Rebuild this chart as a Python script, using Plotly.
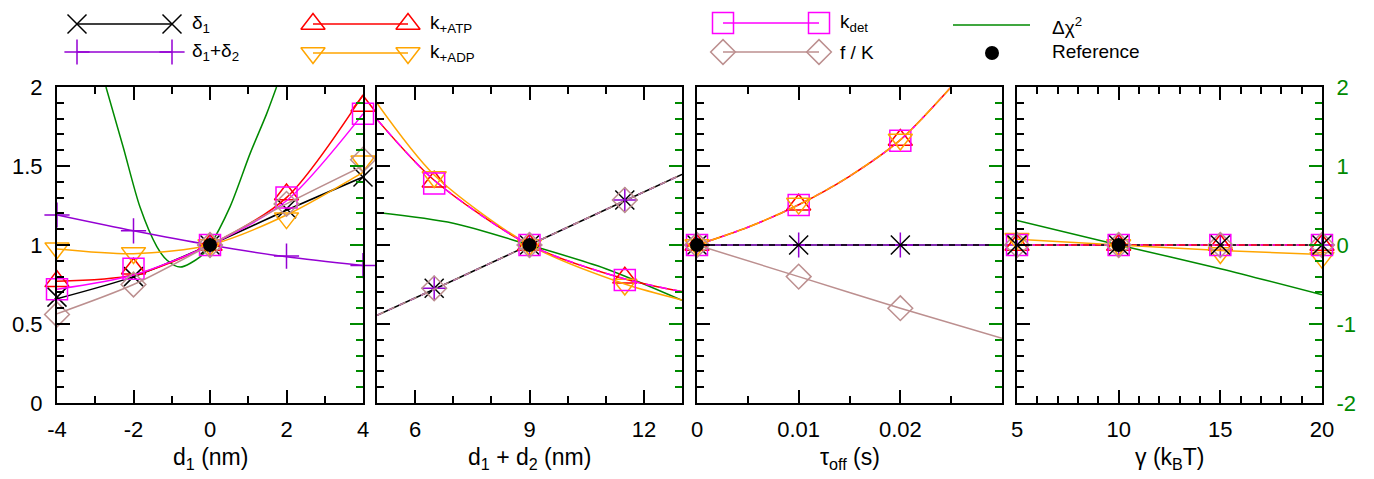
import plotly.graph_objects as go

W, H = 1374, 479
FONT = "Liberation Sans"

# ---------------- data ----------------
# Panel 1 : d1 (nm)
P1_X = [-4, -2, 0, 2, 4]
P1_D1 = [0.67, 0.80, 1.00, 1.23, 1.43]
P1_D12 = [1.19, 1.09, 1.00, 0.93, 0.87]
P1_KATP = [0.77, 0.85, 1.00, 1.32, 1.88]
P1_KADP = [0.98, 0.95, 1.00, 1.17, 1.53]
P1_KDET = [0.72, 0.85, 1.00, 1.30, 1.83]
P1_FK = [0.56, 0.75, 1.00, 1.26, 1.54]
P1_D1_FIT = [0.66, 0.80, 1.00, 1.22, 1.43]
P1_D12_FIT = [1.19, 1.09, 1.00, 0.925, 0.87]
P1_KATP_FIT = [0.77, 0.81, 1.00, 1.30, 1.95]
P1_KADP_FIT = [0.975, 0.945, 1.00, 1.19, 1.46]
P1_KDET_FIT = [0.72, 0.81, 1.00, 1.28, 1.83]
P1_FK_FIT = [0.565, 0.75, 1.00, 1.26, 1.50]
P1_CHI_X = [-2.72, -2.27, -1.83, -1.39, -1.13, -0.78, -0.26, 0.0, 0.52, 1.05, 1.48, 1.74]
P1_CHI = [2.0, 1.24, 0.48, -0.02, -0.19, -0.28, -0.15, 0.0, 0.48, 1.16, 1.66, 2.0]
P1_REF_X = [0]

# Panel 2 : d1 + d2 (nm)
P2_X = [6.5, 9, 11.5]
P2_D1 = [0.726, 1.00, 1.285]
P2_D12 = [0.726, 1.00, 1.285]
P2_KATP = [1.40, 1.00, 0.793]
P2_KADP = [1.43, 1.00, 0.75]
P2_KDET = [1.39, 1.00, 0.778]
P2_FK = [0.726, 1.00, 1.285]
P2_FIT_X = [5, 6.5, 9, 11.5, 13]
P2_D1_FIT = [0.555, 0.72, 1.00, 1.28, 1.447]
P2_D12_FIT = [0.555, 0.72, 1.00, 1.28, 1.447]
P2_KATP_FIT = [1.795, 1.41, 1.00, 0.785, 0.705]
P2_KADP_FIT = [1.897, 1.443, 1.00, 0.753, 0.652]
P2_KDET_FIT = [1.795, 1.41, 1.00, 0.785, 0.705]
P2_FK_FIT = [0.555, 0.72, 1.00, 1.28, 1.447]
P2_CHI_X = [5, 7, 9, 11, 13]
P2_CHI = [0.41, 0.275, 0.0, -0.30, -0.70]
P2_REF_X = [9]

# Panel 3 : tau_off (s)
P3_X = [0, 0.01, 0.02]
P3_D1 = [1.0, 1.0, 1.0]
P3_D12 = [1.0, 1.0, 1.0]
P3_KATP = [1.0, 1.255, 1.665]
P3_KADP = [1.0, 1.262, 1.668]
P3_KDET = [1.0, 1.253, 1.66]
P3_FK = [1.0, 0.80, 0.60]
P3_FLAT_X = [0, 0.03]
P3_D1_FIT = [1.0, 1.0]
P3_D12_FIT = [1.0, 1.0]
P3_K_FIT_X = [0, 0.005, 0.01, 0.015, 0.02, 0.025]
P3_KATP_FIT = [1.0, 1.112, 1.255, 1.435, 1.665, 2.0]
P3_KADP_FIT = [1.0, 1.112, 1.255, 1.435, 1.665, 2.0]
P3_KDET_FIT = [1.0, 1.112, 1.255, 1.435, 1.665, 2.0]
P3_FK_FIT_X = [0, 0.01, 0.02, 0.03]
P3_FK_FIT = [1.0, 0.80, 0.60, 0.41]
P3_CHI_X = [0, 0.03]
P3_CHI = [0.0, 0.0]
P3_REF_X = [0]

# Panel 4 : gamma (kBT)
P4_X = [5, 10, 15, 20]
P4_D1 = [1.0, 1.0, 1.0, 1.0]
P4_D12 = [1.0, 1.0, 1.0, 1.0]
P4_KATP = [1.0, 1.0, 1.0, 1.0]
P4_KADP = [1.04, 1.0, 0.95, 0.92]
P4_KDET = [1.0, 1.0, 1.0, 1.0]
P4_FK = [1.0, 1.0, 1.0, 1.0]
P4_KADP_FIT = [1.036, 1.0, 0.965, 0.94]
P4_CHI = [0.31, 0.0, -0.30, -0.63]
P4_REF_X = [10]

REF_Y = [1.0]

# tick labels
P1_TICKS = [-4, -2, 0, 2, 4]
P1_TICKTEXT = ["-4", "-2", "0", "2", "4"]
P2_TICKS = [6, 9, 12]
P2_TICKTEXT = ["6", "9", "12"]
P3_TICKS = [0, 0.01, 0.02]
P3_TICKTEXT = ["0", "0.01", "0.02"]
P4_TICKS = [5, 10, 15, 20]
P4_TICKTEXT = ["5", "10", "15", "20"]
Y1_TICKS = [0, 0.5, 1, 1.5, 2]
Y1_TICKTEXT = ["0", "0.5", "1", "1.5", "2"]
Y2_TICKS = [-2, -1, 0, 1, 2]
Y2_TICKTEXT = ["-2", "-1", "0", "1", "2"]

XTITLES = ["d<sub>1</sub> (nm)", "d<sub>1</sub> + d<sub>2</sub> (nm)",
           "τ<sub>off</sub> (s)", "γ (k<sub>B</sub>T)"]

# ---------------- styles ----------------
BLACK = "#000000"
PURPLE = "#9400d3"
RED = "#ff0000"
ORANGE = "#ffa500"
MAGENTA = "#ff00ff"
ROSY = "#bc8f8f"
GREEN = "#008a00"

STY = {
    "d1": dict(color=BLACK, symbol="x-thin", size=19),
    "d12": dict(color=PURPLE, symbol="cross-thin", size=18),
    "katp": dict(color=RED, symbol="triangle-up-open", size=21),
    "kadp": dict(color=ORANGE, symbol="triangle-down-open", size=21),
    "kdet": dict(color=MAGENTA, symbol="square-open", size=21),
    "fk": dict(color=ROSY, symbol="diamond-open", size=19),
}
# coincident curves are drawn dashed so the ones underneath show through, as in the reference
DASH = {
    (2, "d12"): "5px,7px", (2, "fk"): "7px,5px", (2, "kdet"): "8px,6px",
    (3, "d1"): "6px,6px", (3, "kdet"): "4px,9px", (3, "kadp"): "10px,4px",
    (4, "kdet"): "6px,6px", (4, "fk"): "4px,8px", (4, "d1"): "3px,9px",
}

PANEL_PX = [(57, 363), (377, 682), (697, 1002), (1017, 1322)]
TOP, BOT = 87, 403
XRANGES = [[-4, 4], [5, 13], [0, 0.03], [5, 20]]
XMINOR = [(-4, 1), (5, 1), (0, 0.005), (5, 1)]
XTICKS = [(P1_TICKS, P1_TICKTEXT), (P2_TICKS, P2_TICKTEXT),
          (P3_TICKS, P3_TICKTEXT), (P4_TICKS, P4_TICKTEXT)]

fig = go.Figure()


def ax_name(prefix, i):
    return prefix if i == 1 else f"{prefix}{i}"


def add_line(k, x, y, key):
    s = STY[key]
    fig.add_trace(go.Scatter(x=x, y=y, mode="lines", xaxis=ax_name("x", k),
                             yaxis=ax_name("y", k + 4),
                             line=dict(color=s["color"], width=1.5, shape="spline", smoothing=0.8,
                                       dash=DASH.get((k, key), "solid")),
                             showlegend=False, hoverinfo="skip"))


def add_pts(k, x, y, key):
    s = STY[key]
    fig.add_trace(go.Scatter(x=x, y=y, mode="markers", xaxis=ax_name("x", k),
                             yaxis=ax_name("y", k + 4), cliponaxis=False,
                             marker=dict(symbol=s["symbol"], size=s["size"], color=s["color"],
                                         line=dict(color=s["color"], width=1.5)),
                             showlegend=False, hoverinfo="skip"))


def add_chi(k, x, y):
    fig.add_trace(go.Scatter(x=x, y=y, mode="lines", xaxis=ax_name("x", k),
                             yaxis=ax_name("y", k),
                             line=dict(color=GREEN, width=1.5, shape="spline", smoothing=0.8),
                             showlegend=False, hoverinfo="skip"))


def add_ref(k, x):
    fig.add_trace(go.Scatter(x=x, y=REF_Y, mode="markers", xaxis=ax_name("x", k),
                             yaxis=ax_name("y", k + 4), cliponaxis=False,
                             marker=dict(symbol="circle", size=14, color=BLACK),
                             showlegend=False, hoverinfo="skip"))


# panel 1
add_chi(1, P1_CHI_X, P1_CHI)
for key, fit, pts in [("d1", P1_D1_FIT, P1_D1), ("d12", P1_D12_FIT, P1_D12),
                      ("katp", P1_KATP_FIT, P1_KATP), ("kadp", P1_KADP_FIT, P1_KADP),
                      ("kdet", P1_KDET_FIT, P1_KDET), ("fk", P1_FK_FIT, P1_FK)]:
    add_line(1, P1_X, fit, key)
    add_pts(1, P1_X, pts, key)
add_ref(1, P1_REF_X)

# panel 2
add_chi(2, P2_CHI_X, P2_CHI)
for key, fit, pts in [("d1", P2_D1_FIT, P2_D1), ("d12", P2_D12_FIT, P2_D12),
                      ("katp", P2_KATP_FIT, P2_KATP), ("kadp", P2_KADP_FIT, P2_KADP),
                      ("kdet", P2_KDET_FIT, P2_KDET), ("fk", P2_FK_FIT, P2_FK)]:
    add_line(2, P2_FIT_X, fit, key)
    add_pts(2, P2_X, pts, key)
add_ref(2, P2_REF_X)

# panel 3
add_chi(3, P3_CHI_X, P3_CHI)
for key, fx, fit, pts in [("d12", P3_FLAT_X, P3_D12_FIT, P3_D12), ("d1", P3_FLAT_X, P3_D1_FIT, P3_D1),
                          ("katp", P3_K_FIT_X, P3_KATP_FIT, P3_KATP),
                          ("kdet", P3_K_FIT_X, P3_KDET_FIT, P3_KDET),
                          ("kadp", P3_K_FIT_X, P3_KADP_FIT, P3_KADP),
                          ("fk", P3_FK_FIT_X, P3_FK_FIT, P3_FK)]:
    add_line(3, fx, fit, key)
    add_pts(3, P3_X, pts, key)
add_ref(3, P3_REF_X)

# panel 4
add_chi(4, P4_X, P4_CHI)
for key, fit, pts in [("d12", P4_D12, P4_D12), ("katp", P4_KATP, P4_KATP),
                      ("kadp", P4_KADP_FIT, P4_KADP), ("kdet", P4_KDET, P4_KDET),
                      ("fk", P4_FK, P4_FK), ("d1", P4_D1, P4_D1)]:
    add_line(4, P4_X, fit, key)
    add_pts(4, P4_X, pts, key)
add_ref(4, P4_REF_X)

# ---------------- axes ----------------
ydom = [(H - BOT) / H, (H - TOP) / H]
layout = {}
annotations = []
for k in range(1, 5):
    a, b = PANEL_PX[k - 1]
    tv, tt = XTICKS[k - 1]
    m0, md = XMINOR[k - 1]
    layout[ax_name("xaxis", k)] = dict(
        domain=[a / W, b / W], range=XRANGES[k - 1], anchor=ax_name("y", k),
        showline=True, linecolor=BLACK, linewidth=2, mirror="ticks",
        ticks="inside", ticklen=13, tickwidth=1.5, tickcolor=BLACK,
        tickmode="array", tickvals=tv, ticktext=tt,
        tickfont=dict(family=FONT, size=22, color=BLACK), ticklabelstandoff=6,
        minor=dict(tickmode="linear", tick0=m0, dtick=md, ticks="inside", ticklen=7,
                   tickwidth=1.5, tickcolor=BLACK, showgrid=False),
        showgrid=False, zeroline=False, automargin=False, fixedrange=True)
    # base axis: delta chi^2 on the right (green ticks)
    layout[ax_name("yaxis", k)] = dict(
        domain=ydom, range=[-2, 2], anchor=ax_name("x", k), side="right",
        showline=True, linecolor=BLACK, linewidth=2,
        ticks="inside", ticklen=13, tickwidth=1.5, tickcolor=GREEN,
        tickmode="array", tickvals=Y2_TICKS, ticktext=Y2_TICKTEXT,
        showticklabels=(k == 4), ticklabelstandoff=8,
        tickfont=dict(family=FONT, size=22, color=GREEN),
        minor=dict(tickmode="linear", tick0=-2, dtick=0.2, ticks="inside", ticklen=7,
                   tickwidth=1.5, tickcolor=GREEN, showgrid=False),
        showgrid=False, zeroline=False, automargin=False, fixedrange=True)
    # overlay axis: relative values on the left
    layout[ax_name("yaxis", k + 4)] = dict(
        range=[0, 2], anchor=ax_name("x", k), side="left", overlaying=ax_name("y", k),
        showline=True, linecolor=BLACK, linewidth=2,
        ticks="inside", ticklen=13, tickwidth=1.5, tickcolor=BLACK,
        tickmode="array", tickvals=Y1_TICKS, ticktext=Y1_TICKTEXT,
        showticklabels=(k == 1), ticklabelstandoff=8,
        tickfont=dict(family=FONT, size=22, color=BLACK),
        minor=dict(tickmode="linear", tick0=0, dtick=0.1, ticks="inside", ticklen=7,
                   tickwidth=1.5, tickcolor=BLACK, showgrid=False),
        showgrid=False, zeroline=False, automargin=False, fixedrange=True)
    annotations.append(dict(text=XTITLES[k - 1], xref="paper", yref="paper",
                            x=(a + b) / 2 / W, y=1 - 458 / H, xanchor="center", yanchor="middle",
                            showarrow=False, font=dict(family=FONT, size=23, color=BLACK)))

# ---------------- legend (drawn on a hidden axis in the header strip) ----------------
LEG_H = 80
LEG_FONT = 19
layout["xaxis5"] = dict(domain=[0, 1], range=[0, W], anchor="y9", visible=False, fixedrange=True)
layout["yaxis9"] = dict(domain=[1 - LEG_H / H, 1], range=[LEG_H, 0], anchor="x5", visible=False,
                        fixedrange=True)

LEG_ITEMS = [
    ("d1", 77, 172, 24, "δ<sub>1</sub>", 190),
    ("d12", 77, 172, 52, "δ<sub>1</sub>+δ<sub>2</sub>", 190),
    ("katp", 313, 408, 24, "k<sub>+ATP</sub>", 428),
    ("kadp", 313, 408, 53, "k<sub>+ADP</sub>", 428),
    ("kdet", 723, 819, 23, "k<sub>det</sub>", 838),
    ("fk", 723, 819, 52, "f / K", 838),
]
for key, x0, x1, yy, label, lx in LEG_ITEMS:
    s = STY[key]
    fig.add_trace(go.Scatter(x=[x0, x1], y=[yy, yy], mode="lines+markers", xaxis="x5", yaxis="y9",
                             cliponaxis=False, line=dict(color=s["color"], width=1.5),
                             marker=dict(symbol=s["symbol"], size=s["size"], color=s["color"],
                                         line=dict(color=s["color"], width=1.5)),
                             showlegend=False, hoverinfo="skip"))
    annotations.append(dict(text=label, xref="x5", yref="y9", x=lx, y=yy, xanchor="left",
                            yanchor="middle", showarrow=False,
                            font=dict(family=FONT, size=LEG_FONT, color=BLACK)))
fig.add_trace(go.Scatter(x=[953, 1030], y=[25, 25], mode="lines", xaxis="x5", yaxis="y9",
                         line=dict(color=GREEN, width=1.5), showlegend=False, hoverinfo="skip"))
fig.add_trace(go.Scatter(x=[992], y=[53], mode="markers", xaxis="x5", yaxis="y9", cliponaxis=False,
                         marker=dict(symbol="circle", size=14, color=BLACK),
                         showlegend=False, hoverinfo="skip"))
annotations.append(dict(text="Δχ<sup>2</sup>", xref="x5", yref="y9", x=1050, y=26, xanchor="left",
                        yanchor="middle", showarrow=False,
                        font=dict(family=FONT, size=LEG_FONT, color=BLACK)))
annotations.append(dict(text="Reference", xref="x5", yref="y9", x=1050, y=51, xanchor="left",
                        yanchor="middle", showarrow=False,
                        font=dict(family=FONT, size=LEG_FONT, color=BLACK)))

fig.update_layout(
    width=W, height=H, margin=dict(l=0, r=0, t=0, b=0, pad=0),
    paper_bgcolor="white", plot_bgcolor="rgba(0,0,0,0)",
    font=dict(family=FONT, size=20, color=BLACK),
    showlegend=False, annotations=annotations, **layout)

fig.write_html("out.html")
